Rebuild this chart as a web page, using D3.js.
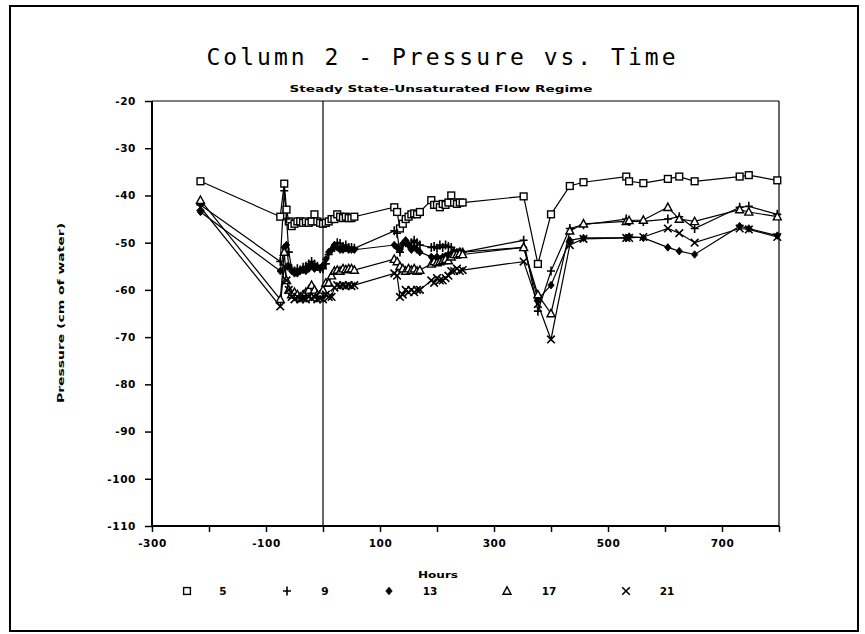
<!DOCTYPE html>
<html><head><meta charset="utf-8">
<script src="https://cdn.jsdelivr.net/npm/d3@7"></script>
<style>
html,body{margin:0;padding:0;background:#fff;}
svg{display:block;}
</style></head>
<body>
<svg id="c" width="865" height="634"></svg>
<script>
const hours = [-215,-75,-68,-64,-60,-55,-50,-45,-40,-35,-30,-25,-20,-15,-10,-5,0,5,10,15,20,25,30,35,40,45,50,55,
  125,130,135,140,145,150,155,160,165,170,190,195,200,205,210,215,220,225,230,235,240,245,
  352,377,400,433,457,532,537,562,605,625,652,731,747,797];
const s5  = [-37,-44.5,-37.5,-43,-45.5,-46.5,-46,-45.5,-45.5,-45.8,-45.5,-45.8,-45.5,-44,-45.5,-45.8,-46,-45.8,-45.5,-45,-45,-44,-44.5,-44.8,-44.5,-44.8,-44.8,-44.5,
  -42.5,-43.5,-47,-46,-45,-44.5,-44,-43.8,-44,-43.5,-41,-42,-42,-42.5,-41.8,-42,-41.5,-40,-41.5,-41.8,-41.5,-41.5,
  -40.2,-54.5,-44,-38,-37.2,-36,-37,-37.4,-36.5,-36,-37,-36,-35.7,-36.8];
const s9  = [-42,-54,-39,-45,-52,-55.5,-56,-55.5,-55.8,-55.2,-55,-54.5,-54,-54.5,-55,-55.5,-55.5,-54.5,-52.5,-51.5,-51,-50,-50.2,-50.8,-50.5,-51,-51,-51.2,
  -47.5,-48,-52,-50.5,-50,-50.5,-50,-49.5,-50,-50.5,-51,-50.8,-51.2,-50.5,-51,-50.5,-50.8,-51,-52,-52.5,-52.5,-52,
  -49.5,-64.5,-56,-47,-46.2,-45,-45.5,-45.5,-45,-44.5,-47,-42.5,-42.3,-44];
const s13 = [-43.5,-56,-51,-50.5,-55,-56,-56.5,-56.5,-56,-55.8,-56,-55.5,-55,-55.5,-55.2,-55.5,-54.8,-53.5,-52,-51.5,-50.5,-51,-51.5,-51.5,-51.2,-51.5,-51.5,-51.5,
  -50.5,-51,-51.5,-50.2,-49.5,-50.5,-51.5,-51,-51.5,-52,-53,-53.5,-53,-53.5,-53,-52.8,-52.5,-52.5,-52,-52,-51.8,-52,
  -51,-62,-59,-49.5,-49,-49,-48.7,-49,-51,-51.8,-52.5,-46.5,-47,-48.5];
const s17 = [-41,-62,-52,-58,-60,-61,-60.5,-61,-61.5,-61,-60.5,-60,-59,-60,-61,-61,-60,-58.5,-58.5,-57,-56,-55.8,-56,-55.5,-55.7,-55.5,-55.5,-55.8,
  -53.5,-54,-55,-55.5,-56,-55.5,-55.8,-55.5,-56,-55.8,-54.5,-54,-54.2,-54,-53.8,-53.5,-53.8,-53,-52.5,-52.5,-52.3,-52.5,
  -51,-61,-65,-47.5,-46,-45.5,-45.3,-45.2,-42.5,-45,-45.5,-43,-43.5,-44.5];
const s21 = [-42.5,-63.5,-55,-58,-60,-61.5,-62,-61.5,-62,-61.8,-62,-61.5,-61.8,-61.5,-62,-61.8,-62,-61,-61.5,-61.5,-59.5,-59,-59.2,-59,-59.2,-59,-59.2,-59,
  -56.5,-57,-61.5,-61,-60,-60.5,-60,-60.5,-60,-60,-58,-58.5,-57.5,-58,-58,-57.5,-57,-56,-56,-55.5,-56,-55.8,
  -54,-63,-70.5,-50.5,-49.2,-49,-49,-48.8,-47,-48,-50,-47,-47.2,-48.8];
const seriesNames = ["5","9","13","17","21"];
const seriesValues = [s5, s9, s13, s17, s21];
const markerKinds = ["square","plus","diamond","triangle","cross"];
const xTicks = [-300,-200,-100,0,100,200,300,400,500,600,700,800];
const xTickLabels = [-300,-100,100,300,500,700];
const yTicks = [-110,-100,-90,-80,-70,-60,-50,-40,-30,-20];

const svg = d3.select("#c");
const pL = 152, pR = 779, pT = 101, pB = 526;
const x = d3.scaleLinear().domain([-300, 800]).range([pL, pR]);
const y = d3.scaleLinear().domain([-110, -20]).range([pB, pT]);
const labelFont = "'DejaVu Sans', sans-serif";

// outer frame
svg.append("rect").attr("x", 10).attr("y", 6).attr("width", 848).attr("height", 625)
  .attr("fill", "none").attr("stroke", "#000").attr("stroke-width", 2);

// title
svg.append("text").attr("x", 441).attr("y", 65).attr("text-anchor", "middle")
  .attr("font-family", "'DejaVu Sans Mono', monospace").attr("font-size", 23)
  .attr("textLength", 469).attr("lengthAdjust", "spacing")
  .text("Column 2 - Pressure vs. Time");
svg.append("text").attr("x", 441).attr("y", 92).attr("text-anchor", "middle")
  .attr("font-family", labelFont).attr("font-weight", "bold").attr("font-size", 9)
  .attr("textLength", 303).attr("lengthAdjust", "spacingAndGlyphs")
  .text("Steady State-Unsaturated Flow Regime");

// plot frame
svg.append("line").attr("x1", pL).attr("x2", pR).attr("y1", pT).attr("y2", pT).attr("stroke", "#000").attr("stroke-width", 1.2);
svg.append("line").attr("x1", pR).attr("x2", pR).attr("y1", pT).attr("y2", pB).attr("stroke", "#000").attr("stroke-width", 1.2);
svg.append("line").attr("x1", pL).attr("x2", pL).attr("y1", pT).attr("y2", pB).attr("stroke", "#000").attr("stroke-width", 2);
svg.append("line").attr("x1", pL).attr("x2", pR).attr("y1", pB).attr("y2", pB).attr("stroke", "#000").attr("stroke-width", 2);
// vertical line at 0 hours
svg.append("line").attr("x1", x(0)).attr("x2", x(0)).attr("y1", pT).attr("y2", pB).attr("stroke", "#000").attr("stroke-width", 1.2);

// axes
const xAxis = d3.axisBottom(x).tickValues(xTicks).tickSize(6).tickPadding(8)
  .tickFormat(d => xTickLabels.includes(d) ? String(d) : "");
const gx = svg.append("g").attr("transform", `translate(0,${pB})`).call(xAxis);
gx.select(".domain").remove();
gx.selectAll("line").attr("stroke", "#000").attr("stroke-width", 1.5);
gx.selectAll("text").attr("font-family", labelFont).attr("font-weight", "bold").attr("font-size", 10.5)
  .attr("letter-spacing", 0.6).attr("fill", "#000");

const yAxis = d3.axisLeft(y).tickValues(yTicks).tickSize(7).tickPadding(9).tickFormat(d => String(d));
const gy = svg.append("g").attr("transform", `translate(${pL},0)`).call(yAxis);
gy.select(".domain").remove();
gy.selectAll("line").attr("stroke", "#000").attr("stroke-width", 1.5);
gy.selectAll("text").attr("font-family", labelFont).attr("font-weight", "bold").attr("font-size", 10.5)
  .attr("letter-spacing", 0.6).attr("fill", "#000");

// axis titles
svg.append("text").attr("x", 438).attr("y", 578).attr("text-anchor", "middle")
  .attr("font-family", labelFont).attr("font-weight", "bold").attr("font-size", 9.5)
  .attr("textLength", 40).attr("lengthAdjust", "spacingAndGlyphs").text("Hours");
svg.append("text").attr("transform", "translate(64,313) rotate(-90)").attr("text-anchor", "middle")
  .attr("font-family", labelFont).attr("font-weight", "bold").attr("font-size", 9)
  .attr("textLength", 180).attr("lengthAdjust", "spacingAndGlyphs")
  .text("Pressure (cm of water)");

// marker drawing
function drawMarker(g, kind, cx, cy) {
  const s = g.append("g").attr("transform", `translate(${cx},${cy})`);
  if (kind === "square") {
    s.append("rect").attr("x", -3.4).attr("y", -3.4).attr("width", 6.8).attr("height", 6.8)
      .attr("fill", "#fff").attr("stroke", "#000").attr("stroke-width", 1.4);
  } else if (kind === "plus") {
    s.append("path").attr("d", "M-4,0H4M0,-4.5V4.5").attr("stroke", "#000").attr("stroke-width", 1.6);
  } else if (kind === "diamond") {
    s.append("path").attr("d", "M0,-3.8L3.2,0L0,3.8L-3.2,0Z").attr("fill", "#000").attr("stroke", "#000").attr("stroke-width", 0.8);
  } else if (kind === "triangle") {
    s.append("path").attr("d", "M0,-4.2L4,3.2L-4,3.2Z").attr("fill", "#fff").attr("stroke", "#000").attr("stroke-width", 1.4);
  } else {
    s.append("path").attr("d", "M-3.8,-3.8L3.8,3.8M-3.8,3.8L3.8,-3.8").attr("stroke", "#000").attr("stroke-width", 1.6);
  }
}

const line = d3.line().defined(d => d[1] != null).x(d => x(d[0])).y(d => y(d[1]));
const plot = svg.append("g");
seriesValues.forEach(vals => {
  const pts = hours.map((h, i) => [h, vals[i]]);
  plot.append("path").datum(pts).attr("d", line).attr("fill", "none")
    .attr("stroke", "#000").attr("stroke-width", 1.2);
});
seriesValues.forEach((vals, k) => {
  const g = plot.append("g");
  hours.forEach((h, i) => { if (vals[i] != null) drawMarker(g, markerKinds[k], x(h), y(vals[i])); });
});

// legend
const legendSym = [187, 287, 389, 507, 626];
const legendTxt = [223, 325, 430, 549, 667];
const lg = svg.append("g");
seriesNames.forEach((n, k) => {
  drawMarker(lg, markerKinds[k], legendSym[k], 591);
  lg.append("text").attr("x", legendTxt[k]).attr("y", 595).attr("text-anchor", "middle")
    .attr("font-family", labelFont).attr("font-weight", "bold").attr("font-size", 10.5).text(n);
});
</script>
</body></html>
